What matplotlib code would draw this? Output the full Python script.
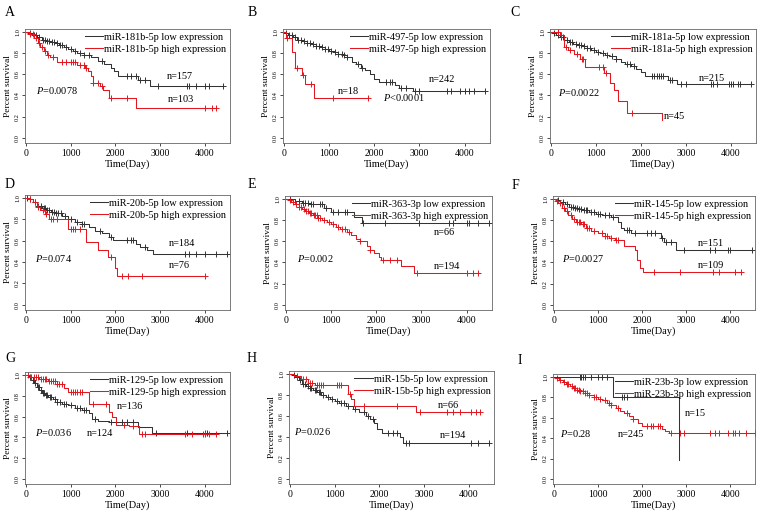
import numpy as np
import matplotlib
matplotlib.use("Agg")
import matplotlib.pyplot as plt

plt.rcParams['font.family'] = ['Liberation Serif', 'DejaVu Serif']
plt.rcParams['mathtext.fontset'] = 'custom'
plt.rcParams['mathtext.rm'] = 'Liberation Serif'
plt.rcParams['mathtext.it'] = 'Liberation Serif:italic'

LOW_COLOR = "#333333"
HIGH_COLOR = "#e3171f"

# ---- data: step times, survival after each step, censor times ----
# A  miR-181b-5p
A_low_t = [60, 150, 250, 350, 450, 550, 650, 750, 850, 950, 1050, 1150, 1300, 1450, 1600, 1750, 1900, 1960, 2050, 2500, 2780]
A_low_s = [0.99, 0.97, 0.95, 0.93, 0.92, 0.91, 0.90, 0.88, 0.86, 0.84, 0.82, 0.80, 0.78, 0.76, 0.73, 0.70, 0.66, 0.63, 0.58, 0.55, 0.49]
A_low_c = [100, 180, 230, 300, 380, 420, 470, 520, 580, 620, 700, 760, 800, 900, 1000, 1100, 1200, 1300, 1400, 1700, 2250, 2350, 2450, 2550, 2650, 2950, 3600, 3650, 3800, 4000, 4100, 4400]
A_high_t = [80, 180, 260, 320, 400, 480, 540, 700, 1150, 1320, 1380, 1450, 1500, 1650, 1720, 1850, 2450]
A_high_s = [0.98, 0.94, 0.90, 0.86, 0.82, 0.78, 0.76, 0.72, 0.69, 0.66, 0.63, 0.58, 0.52, 0.49, 0.45, 0.38, 0.28]
A_high_c = [100, 150, 220, 300, 350, 420, 500, 600, 800, 900, 1000, 1050, 1100, 1200, 1300, 1350, 1500, 1600, 1700, 1900, 2250, 4000, 4150, 4250]

# B  miR-497-5p
B_low_t = [40, 100, 200, 300, 400, 500, 600, 700, 800, 900, 1000, 1100, 1200, 1300, 1400, 1500, 1600, 1700, 1800, 1900, 2000, 2100, 2450, 2550, 2850]
B_low_s = [0.99, 0.97, 0.95, 0.93, 0.915, 0.90, 0.885, 0.87, 0.855, 0.84, 0.82, 0.81, 0.79, 0.78, 0.76, 0.72, 0.70, 0.66, 0.64, 0.60, 0.56, 0.53, 0.50, 0.47, 0.445]
B_low_c = [50, 120, 180, 250, 320, 380, 450, 520, 580, 650, 720, 780, 850, 920, 980, 1050, 1120, 1200, 1280, 1330, 1400, 1650, 1720, 2250, 2350, 2400, 2600, 2700, 2900, 3000, 3600, 3700, 3900, 4000, 4100, 4200, 4450]
B_high_t = [40, 190, 250, 410, 460, 660]
B_high_s = [0.94, 0.81, 0.665, 0.59, 0.51, 0.38]
B_high_c = [75, 300, 430, 610, 1080, 1850]

# C  miR-181a-5p
C_low_t = [50, 120, 200, 300, 400, 500, 600, 700, 800, 900, 1000, 1100, 1200, 1300, 1450, 1550, 1650, 1780, 1900, 2000, 2100, 2600, 2800]
C_low_s = [0.99, 0.97, 0.95, 0.93, 0.91, 0.89, 0.88, 0.865, 0.85, 0.83, 0.81, 0.80, 0.78, 0.77, 0.75, 0.72, 0.70, 0.68, 0.65, 0.62, 0.58, 0.55, 0.51]
C_low_c = [80, 150, 220, 280, 350, 420, 480, 550, 620, 680, 740, 800, 870, 950, 1050, 1150, 1250, 1350, 1450, 1700, 1750, 1850, 2250, 2300, 2350, 2400, 2450, 2500, 2650, 2700, 2900, 3000, 3550, 3600, 3700, 3950, 4000, 4050, 4150, 4200, 4450]
C_high_t = [200, 300, 380, 520, 650, 760, 1170, 1320, 1400, 1500, 1700, 2460]
C_high_s = [0.97, 0.86, 0.83, 0.79, 0.75, 0.67, 0.61, 0.52, 0.45, 0.35, 0.23, 0.165]
C_high_c = [150, 230, 340, 420, 580, 700, 720, 1080, 1150, 1230, 1800]

# D  miR-20b-5p
D_low_t = [50, 150, 250, 350, 450, 550, 650, 800, 950, 1100, 1250, 1400, 1550, 1700, 1850, 1950, 2450, 2550, 2700, 2850]
D_low_s = [0.99, 0.96, 0.93, 0.91, 0.89, 0.87, 0.86, 0.83, 0.80, 0.78, 0.76, 0.73, 0.69, 0.67, 0.64, 0.61, 0.57, 0.54, 0.51, 0.48]
D_low_c = [30, 100, 200, 280, 330, 400, 430, 480, 520, 580, 620, 680, 720, 780, 880, 1000, 1150, 1250, 1300, 1650, 1900, 2250, 2350, 2400, 2650, 3550, 3650, 3800, 4000, 4250, 4500]
D_high_t = [60, 150, 250, 320, 420, 520, 930, 1350, 1600, 1830, 1990, 2040]
D_high_s = [0.99, 0.96, 0.92, 0.89, 0.85, 0.80, 0.71, 0.59, 0.51, 0.45, 0.34, 0.27]
D_high_c = [100, 200, 280, 380, 450, 560, 600, 700, 1000, 1050, 1100, 1200, 1900, 2150, 2280, 2600, 4000]

# E  miR-363-3p
E_low_t = [200, 350, 500, 850, 1000, 1500, 1690]
E_low_s = [0.98, 0.96, 0.95, 0.92, 0.88, 0.83, 0.775]
E_low_c = [100, 300, 380, 420, 480, 550, 600, 750, 800, 880, 1050, 1150, 1300, 1350, 1700, 2200, 2950, 3600, 3700, 4000, 4050, 4250, 4500]
E_high_t = [50, 120, 200, 280, 360, 430, 500, 600, 700, 800, 900, 1000, 1100, 1200, 1350, 1450, 1550, 1650, 1800, 1850, 1950, 2050, 2100, 2550, 2830]
E_high_s = [0.99, 0.97, 0.95, 0.93, 0.91, 0.89, 0.87, 0.85, 0.82, 0.80, 0.78, 0.76, 0.74, 0.72, 0.69, 0.66, 0.62, 0.60, 0.56, 0.52, 0.49, 0.45, 0.42, 0.37, 0.30]
E_high_c = [80, 150, 230, 300, 330, 400, 450, 480, 530, 560, 620, 650, 680, 720, 760, 850, 950, 1050, 1150, 1250, 1300, 1400, 1650, 1850, 2150, 2300, 2450, 2900, 4000, 4150, 4250]

# F  miR-145-5p
F_low_t = [50, 150, 250, 350, 450, 550, 650, 800, 950, 1100, 1300, 1450, 1520, 1600, 1750, 2430, 2500, 2780]
F_low_s = [0.99, 0.97, 0.95, 0.93, 0.92, 0.91, 0.90, 0.88, 0.86, 0.85, 0.83, 0.78, 0.73, 0.71, 0.68, 0.63, 0.59, 0.515]
F_low_c = [100, 200, 300, 380, 430, 480, 520, 580, 620, 680, 720, 760, 850, 900, 1000, 1050, 1150, 1250, 1350, 1650, 1700, 1850, 2100, 2200, 2300, 2450, 2550, 2650, 2950, 3550, 3650, 3950, 4000, 4500]
F_high_t = [40, 100, 180, 250, 330, 420, 500, 620, 720, 850, 1000, 1150, 1250, 1380, 1600, 1830, 1880, 1950, 2020]
F_high_s = [0.98, 0.96, 0.92, 0.89, 0.85, 0.81, 0.78, 0.76, 0.73, 0.70, 0.68, 0.65, 0.63, 0.61, 0.56, 0.515, 0.42, 0.35, 0.31]
F_high_c = [70, 150, 220, 300, 380, 450, 530, 560, 600, 650, 680, 750, 800, 900, 1100, 1150, 1200, 1300, 1400, 1450, 2280, 2850, 3600, 3750, 4100, 4250]

# G  miR-129-5p
G_low_t = [60, 120, 180, 240, 300, 360, 420, 500, 600, 700, 800, 950, 1100, 1250, 1400, 1470, 1600, 1850, 2500, 2810]
G_low_s = [0.98, 0.95, 0.92, 0.89, 0.86, 0.83, 0.81, 0.79, 0.77, 0.74, 0.72, 0.71, 0.68, 0.66, 0.63, 0.58, 0.56, 0.545, 0.50, 0.44]
G_low_c = [90, 150, 210, 260, 290, 330, 380, 400, 450, 480, 530, 560, 640, 700, 760, 850, 900, 1000, 1150, 1200, 1300, 1350, 1550, 1900, 2150, 2250, 2400, 2900, 3600, 4000, 4050, 4500]
G_high_t = [100, 300, 500, 700, 850, 950, 1420, 1860, 1930, 2010, 2300, 2520]
G_high_s = [0.985, 0.96, 0.94, 0.91, 0.88, 0.84, 0.725, 0.64, 0.595, 0.515, 0.505, 0.435]
G_high_c = [50, 120, 180, 230, 280, 330, 380, 420, 460, 520, 560, 600, 650, 700, 750, 800, 1000, 1050, 1100, 1150, 1200, 1250, 1500, 1800, 2200, 2400, 2600, 2650, 3550, 3700, 3950, 4000, 4100, 4250]

# H  miR-15b-5p
H_low_t = [50, 120, 200, 280, 360, 440, 520, 600, 700, 800, 900, 1000, 1100, 1250, 1400, 1550, 1700, 1800, 1870, 1950, 2050, 2470, 2530]
H_low_s = [0.99, 0.97, 0.94, 0.91, 0.89, 0.87, 0.85, 0.83, 0.80, 0.78, 0.76, 0.74, 0.72, 0.70, 0.67, 0.64, 0.60, 0.57, 0.53, 0.48, 0.44, 0.40, 0.34]
H_low_c = [100, 160, 230, 300, 330, 400, 450, 480, 550, 580, 650, 680, 750, 850, 950, 1050, 1150, 1200, 1300, 1450, 1650, 1750, 1850, 2200, 2300, 2400, 2600, 2650, 4050, 4200, 4450]
H_high_t = [100, 250, 400, 550, 1290, 1360, 1440, 2810]
H_high_s = [0.98, 0.95, 0.92, 0.90, 0.81, 0.76, 0.70, 0.64]
H_high_c = [150, 300, 350, 450, 500, 600, 650, 700, 750, 1050, 1100, 1150, 1350, 1650, 2400, 2900, 3500, 3650, 3800, 4050, 4150, 4250]

# I  miR-23b-3p
I_low_t = [1330, 2830]
I_low_s = [0.80, 0.19]
I_low_c = [600, 620, 650, 700, 850, 1000, 1100, 1200, 1550, 1600, 1650]
I_high_t = [50, 120, 200, 280, 360, 440, 520, 600, 700, 800, 900, 1000, 1100, 1200, 1300, 1400, 1500, 1600, 1700, 1800, 1900, 2000, 2450, 2520, 2600]
I_high_s = [0.99, 0.97, 0.95, 0.93, 0.91, 0.89, 0.87, 0.86, 0.84, 0.82, 0.80, 0.78, 0.77, 0.75, 0.73, 0.70, 0.67, 0.65, 0.62, 0.59, 0.55, 0.52, 0.49, 0.47, 0.45]
I_high_c = [80, 150, 230, 300, 330, 400, 450, 480, 520, 560, 600, 650, 700, 750, 800, 900, 950, 1050, 1150, 1250, 1300, 1450, 1650, 1800, 2100, 2200, 2250, 2350, 2400, 2650, 2850, 2950, 3550, 3650, 3750, 3950, 4050, 4100, 4200, 4350, 4550]

letters = ["A", "B", "C", "D", "E", "F", "G", "H", "I"]
mirnas = ["miR-181b-5p", "miR-497-5p", "miR-181a-5p", "miR-20b-5p", "miR-363-3p",
          "miR-145-5p", "miR-129-5p", "miR-15b-5p", "miR-23b-3p"]
p_values = ["=0.0078", "<0.0001", "=0.0022", "=0.074", "=0.002", "=0.0027", "=0.036", "=0.026", "=0.28"]
n_low = [157, 242, 215, 184, 66, 151, 124, 194, 15]
n_high = [103, 18, 45, 76, 194, 109, 136, 66, 245]

curves = [
    (A_low_t, A_low_s, A_low_c, A_high_t, A_high_s, A_high_c),
    (B_low_t, B_low_s, B_low_c, B_high_t, B_high_s, B_high_c),
    (C_low_t, C_low_s, C_low_c, C_high_t, C_high_s, C_high_c),
    (D_low_t, D_low_s, D_low_c, D_high_t, D_high_s, D_high_c),
    (E_low_t, E_low_s, E_low_c, E_high_t, E_high_s, E_high_c),
    (F_low_t, F_low_s, F_low_c, F_high_t, F_high_s, F_high_c),
    (G_low_t, G_low_s, G_low_c, G_high_t, G_high_s, G_high_c),
    (H_low_t, H_low_s, H_low_c, H_high_t, H_high_s, H_high_c),
    (I_low_t, I_low_s, I_low_c, I_high_t, I_high_s, I_high_c),
]

# ---- layout (pixels: left, top, right, bottom) ----
W, H = 762, 515
boxes = [(25, 29, 230, 143), (283, 29, 490, 143), (550, 29, 756, 143),
         (25, 195, 230, 310), (285, 196, 492, 310), (553, 196, 755, 310),
         (25, 372, 230, 484), (289, 371, 494, 484), (553, 374, 755, 484)]
letter_pos = [(10, 13), (252, 13), (515, 13), (10, 184), (252, 184), (515, 186),
              (10, 358), (252, 358), (520, 360)]
# text anchors in data coords: (n_low), (n_high), (P)
n_low_pos = [(3150, 0.58), (3200, 0.55), (3290, 0.56), (3200, 0.57), (3280, 0.68),
             (3270, 0.58), (1360, 0.44), (3340, 0.41), (2960, 0.64)]
n_high_pos = [(3170, 0.36), (1190, 0.44), (2500, 0.20), (3200, 0.37), (3280, 0.36),
              (3270, 0.37), (2030, 0.70), (3300, 0.70), (1460, 0.44)]
p_pos = [(220, 0.45), (2190, 0.38), (150, 0.43), (200, 0.43), (250, 0.44),
         (180, 0.44), (200, 0.445), (100, 0.45), (150, 0.45)]


def km(ax, t, s, c, color):
    t = np.asarray(t, float)
    s = np.asarray(s, float)
    c = np.asarray(c, float)
    end = max(t[-1], c.max())
    x = np.concatenate([[0], t, [end]])
    y = np.concatenate([[1.0], s, [s[-1]]])
    line, = ax.plot(x, y, drawstyle='steps-post', color=color, lw=0.75)
    levels = np.concatenate([[1.0], s])
    cy = levels[np.searchsorted(t, c, side='right')]
    ax.plot(c, cy, ls='none', marker='+', ms=4, mew=0.7, color=color)
    return line


fig = plt.figure(figsize=(W / 100, H / 100), dpi=100)

for i in range(9):
    l, t_, r, b = boxes[i]
    ax = fig.add_axes([l / W, 1 - b / H, (r - l) / W, (b - t_) / H])
    lt, ls_, lc, ht, hs, hc = curves[i]
    if i == 8:
        h_high = km(ax, ht, hs, hc, HIGH_COLOR)
        h_low = km(ax, lt, ls_, lc, LOW_COLOR)
    else:
        h_low = km(ax, lt, ls_, lc, LOW_COLOR)
        h_high = km(ax, ht, hs, hc, HIGH_COLOR)

    ax.set_xlim(-20, 4560)
    ax.set_ylim(-0.05, 1.03)
    ax.set_xticks([0, 1000, 2000, 3000, 4000])
    ax.set_yticks([0.0, 0.2, 0.4, 0.6, 0.8, 1.0])
    ax.set_yticklabels(["0.0", "0.2", "0.4", "0.6", "0.8", "1.0"], rotation=90, va='center')
    ax.tick_params(axis='x', labelsize=7, length=2, width=0.5, pad=2)
    ax.tick_params(axis='y', labelsize=4.5, length=2, width=0.5, pad=1.5)
    for sp in ax.spines.values():
        sp.set_color("#666666")
        sp.set_linewidth(0.6)
    ax.set_xlabel("Time(Day)", fontsize=7.5, labelpad=1)
    ax.set_ylabel("Percent survival", fontsize=6.8, labelpad=2)

    ax.legend([h_low, h_high],
              [mirnas[i] + " low expression", mirnas[i] + " high expression"],
              loc='upper right', frameon=False, fontsize=7.4, handlelength=1.8,
              handletextpad=0.1, labelspacing=0.25, borderaxespad=0.15,
              borderpad=0.2)

    ax.text(n_low_pos[i][0], n_low_pos[i][1], "n=%d" % n_low[i], fontsize=7.4, va='center')
    ax.text(n_high_pos[i][0], n_high_pos[i][1], "n=%d" % n_high[i], fontsize=7.4, va='center')
    ax.text(p_pos[i][0], p_pos[i][1], r"$\mathit{P}$" + p_values[i], fontsize=7.4, va='center')

    fig.text(letter_pos[i][0] / W, 1 - letter_pos[i][1] / H, letters[i],
             fontsize=10, ha='center', va='center')

fig.savefig("out.png", dpi=100)
